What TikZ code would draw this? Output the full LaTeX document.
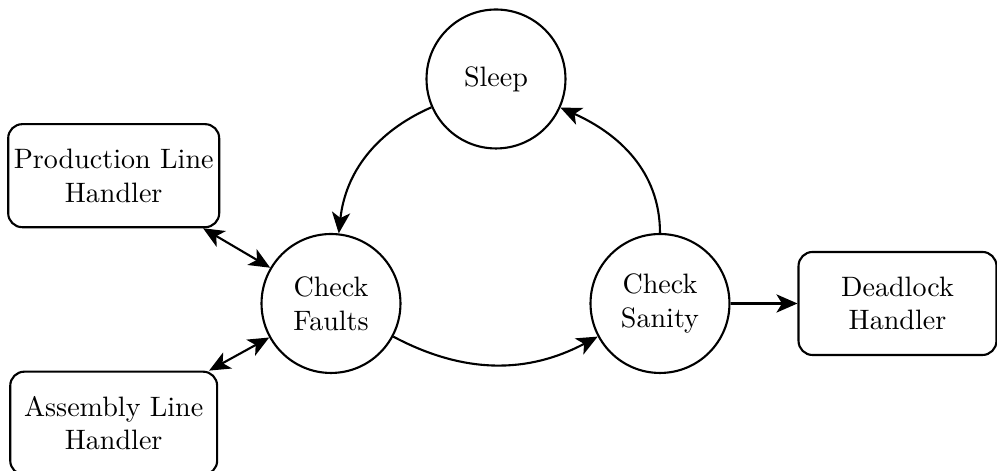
\documentclass[tikz,border=0pt]{standalone}
\usetikzlibrary{arrows.meta}
\begin{document}
\begin{tikzpicture}[x=0.3562pt, y=0.3562pt,
  state/.style={circle, draw, line width=0.75pt, minimum size=49.5pt, inner sep=0pt, align=center},
  handler/.style={rectangle, rounded corners=5pt, draw, line width=0.75pt, minimum width=73.7pt, minimum height=36.7pt, inner sep=2pt, align=center},
  tip/.tip={Stealth[length=7.5pt, width=6.5pt, inset=2pt]},
  arr/.style={-tip, line width=0.75pt},
  dbl/.style={tip-tip, line width=0.75pt}]
  \useasboundingbox (0,0) rectangle (997,471);

  % states of the supervisor loop
  \node[state] (sleep)  at (496,392)   {Sleep};
  \node[state] (faults) at (331,167.5) {Check\\Faults};
  \node[state] (sanity) at (660,167.5) {Check\\Sanity};

  % handlers
  \node[handler] (prod) at (113.7,295.3) {Production Line\\Handler};
  \node[handler] (asm)  at (113.7,47.8)  {Assembly Line\\Handler};
  \node[handler, minimum width=70.5pt] (dead) at (897.5,167.5) {Deadlock\\Handler};

  % transitions
  \draw[arr] (sleep) to[bend right=30] (faults);
  \draw[arr] (faults) to[bend right=28] (sanity);
  \draw[arr] (sanity) to[out=90, in=-24] (sleep);
  \draw[arr] (sanity) -- (dead);
  \draw[dbl] (prod) -- (faults);
  \draw[dbl] (asm) -- (faults);
\end{tikzpicture}
\end{document}
